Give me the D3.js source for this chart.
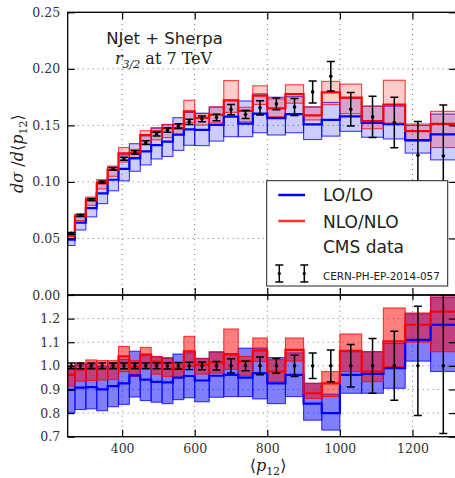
<!DOCTYPE html>
<html>
<head>
<meta charset="utf-8">
<script src="https://cdn.jsdelivr.net/npm/d3@7"></script>
<style>
  body { margin: 0; background: #fff; }
  svg { display: block; }
</style>
</head>
<body>
<script>
// bin edges in <p12>
var binEdges = [250, 270, 300, 330, 360, 390, 420, 450, 480, 510, 540, 570, 600,
  640, 680, 720, 760, 800, 850, 900, 950, 1000, 1060, 1120, 1180, 1250, 1320];

// CMS data (top panel)
var cmsVal = [0.0545, 0.0705, 0.0845, 0.0998, 0.1115, 0.1205, 0.1260, 0.1348, 0.1422, 0.1458,
  0.1493, 0.1531, 0.1558, 0.1570, 0.1640, 0.1596, 0.1655, 0.1690, 0.1663, 0.1796,
  0.1935, 0.1643, 0.1575, 0.1525, 0.1235, 0.1230];
var cmsErrUp = [0.0008, 0.0008, 0.0009, 0.0010, 0.0012, 0.0013, 0.0015, 0.0016, 0.0017, 0.0019,
  0.0021, 0.0023, 0.0025, 0.0028, 0.0045, 0.0035, 0.0063, 0.0052, 0.0075, 0.0097,
  0.0130, 0.0148, 0.0183, 0.0223, 0.0300, 0.0450];
var cmsErrDn = [0.0008, 0.0008, 0.0009, 0.0010, 0.0012, 0.0013, 0.0015, 0.0016, 0.0017, 0.0019,
  0.0021, 0.0023, 0.0025, 0.0028, 0.0045, 0.0035, 0.0063, 0.0052, 0.0075, 0.0097,
  0.0130, 0.0148, 0.0183, 0.0223, 0.0230, 0.0360];

// LO/LO prediction (top panel)
var loVal = [0.0489, 0.0640, 0.0769, 0.0898, 0.1019, 0.1116, 0.1210, 0.1270, 0.1325, 0.1356,
  0.1418, 0.1465, 0.1461, 0.1504, 0.1578, 0.1516, 0.1604, 0.1565, 0.1600, 0.1509,
  0.1548, 0.1580, 0.1521, 0.1510, 0.1370, 0.1420];
var loLow = [0.0438, 0.0575, 0.0691, 0.0808, 0.0922, 0.1009, 0.1094, 0.1150, 0.1203, 0.1225,
  0.1279, 0.1324, 0.1321, 0.1361, 0.1400, 0.1400, 0.1435, 0.1415, 0.1435, 0.1375,
  0.1405, 0.1447, 0.1395, 0.1380, 0.1255, 0.1195];
var loHigh = [0.0542, 0.0709, 0.0852, 0.0998, 0.1128, 0.1239, 0.1338, 0.1409, 0.1476, 0.1505,
  0.1568, 0.1615, 0.1608, 0.1661, 0.1722, 0.1716, 0.1779, 0.1749, 0.1754, 0.1663,
  0.1703, 0.1742, 0.1670, 0.1670, 0.1500, 0.1600];

// NLO/NLO prediction (top panel)
var nloVal = [0.0524, 0.0694, 0.0837, 0.0988, 0.1106, 0.1253, 0.1254, 0.1413, 0.1448, 0.1475,
  0.1475, 0.1624, 0.1566, 0.1594, 0.1722, 0.1628, 0.1763, 0.1650, 0.1776, 0.1588,
  0.1792, 0.1746, 0.1537, 0.1684, 0.1450, 0.1513];
var nloLow = [0.0499, 0.0659, 0.0793, 0.0938, 0.1050, 0.1175, 0.1203, 0.1335, 0.1372, 0.1392,
  0.1418, 0.1523, 0.1503, 0.1523, 0.1615, 0.1532, 0.1685, 0.1577, 0.1696, 0.1548,
  0.1683, 0.1604, 0.1470, 0.1520, 0.1359, 0.1304];
var nloHigh = [0.0545, 0.0714, 0.0866, 0.1020, 0.1140, 0.1304, 0.1288, 0.1453, 0.1479, 0.1509,
  0.1508, 0.1722, 0.1605, 0.1664, 0.1896, 0.1660, 0.1850, 0.1734, 0.1859, 0.1663,
  0.1889, 0.1865, 0.1670, 0.1899, 0.1512, 0.1624];

// ratio panel: theory / data
var loRatio = [0.898, 0.908, 0.910, 0.900, 0.914, 0.926, 0.960, 0.942, 0.932, 0.930,
  0.950, 0.957, 0.938, 0.958, 0.962, 0.950, 0.969, 0.926, 0.962, 0.840,
  0.800, 0.962, 0.966, 0.990, 1.110, 1.174];
var loRatioLow = [0.803, 0.815, 0.818, 0.810, 0.827, 0.837, 0.868, 0.853, 0.846, 0.840,
  0.857, 0.865, 0.848, 0.867, 0.870, 0.870, 0.860, 0.840, 0.870, 0.770,
  0.728, 0.884, 0.884, 0.905, 1.020, 0.976];
var loRatioHigh = [0.995, 1.005, 1.008, 1.000, 1.012, 1.028, 1.062, 1.045, 1.038, 1.032,
  1.050, 1.055, 1.032, 1.058, 1.050, 1.075, 1.075, 1.035, 1.055, 0.926,
  0.880, 1.060, 1.060, 1.095, 1.220, 1.290];
var nloRatio = [0.962, 0.985, 0.990, 0.990, 0.992, 1.040, 0.995, 1.048, 1.018, 1.012,
  0.988, 1.061, 1.005, 1.015, 1.050, 1.020, 1.065, 0.976, 1.068, 0.884,
  0.926, 1.063, 0.976, 1.104, 1.174, 1.230];
var nloRatioLow = [0.915, 0.935, 0.938, 0.940, 0.942, 0.975, 0.955, 0.990, 0.965, 0.955,
  0.950, 0.995, 0.965, 0.970, 0.985, 0.960, 1.018, 0.933, 1.020, 0.862,
  0.870, 0.976, 0.933, 0.997, 1.100, 1.060];
var nloRatioHigh = [1.000, 1.012, 1.025, 1.022, 1.022, 1.082, 1.022, 1.078, 1.040, 1.035,
  1.010, 1.125, 1.030, 1.060, 1.156, 1.040, 1.118, 1.026, 1.118, 0.926,
  0.976, 1.135, 1.060, 1.245, 1.224, 1.320];
var cmsRatioErrUp = [0.012, 0.012, 0.012, 0.012, 0.012, 0.012, 0.012, 0.012, 0.012, 0.013,
  0.014, 0.015, 0.016, 0.018, 0.030, 0.021, 0.038, 0.031, 0.045, 0.054,
  0.067, 0.090, 0.116, 0.146, 0.252, 0.300];
var cmsRatioErrDn = [0.012, 0.012, 0.012, 0.012, 0.012, 0.012, 0.012, 0.012, 0.012, 0.013,
  0.014, 0.015, 0.016, 0.018, 0.030, 0.021, 0.038, 0.031, 0.045, 0.054,
  0.067, 0.090, 0.116, 0.146, 0.210, 0.286];

var yTicksTop = [0.00, 0.05, 0.10, 0.15, 0.20, 0.25];
var yTicksBottom = [0.7, 0.8, 0.9, 1.0, 1.1, 1.2];
var xTicks = [400, 600, 800, 1000, 1200];

var W = 455, H = 478;
var left = 67.7, right = 456, topY = 12.3, midY = 295, botY = 436.7;
var serif = "'DejaVu Serif', serif";
var sans = "'DejaVu Sans', sans-serif";

var svg = d3.select("body").append("svg")
  .attr("width", W)
  .attr("height", H);

var x = d3.scaleLinear().domain([250, 1320]).range([left, right]);
var yTop = d3.scaleLinear().domain([0, 0.25]).range([midY, topY]);
var yBot = d3.scaleLinear().domain([0.7, 1.3]).range([botY, midY]);

var n = cmsVal.length;
var idx = d3.range(n);

var defs = svg.append("defs");
defs.append("clipPath").attr("id", "clipTop").append("rect")
  .attr("x", left).attr("y", topY).attr("width", right - left).attr("height", midY - topY);
defs.append("clipPath").attr("id", "clipBot").append("rect")
  .attr("x", left).attr("y", midY).attr("width", right - left).attr("height", botY - midY);

function grid(g, y, yticks) {
  g.selectAll("line.gx").data(xTicks).enter().append("line")
    .attr("x1", function(d) { return x(d); })
    .attr("x2", function(d) { return x(d); })
    .attr("y1", y.range()[0]).attr("y2", y.range()[1])
    .attr("stroke", "#777").attr("stroke-width", 1)
    .attr("stroke-dasharray", "1,4");
  g.selectAll("line.gy").data(yticks).enter().append("line")
    .attr("x1", left).attr("x2", right)
    .attr("y1", function(d) { return y(d); })
    .attr("y2", function(d) { return y(d); })
    .attr("stroke", "#777").attr("stroke-width", 1)
    .attr("stroke-dasharray", "1,4");
}

function band(g, y, lo, hi, colour, fillOp) {
  g.append("g").selectAll("rect").data(idx).enter().append("rect")
    .attr("x", function(i) { return x(binEdges[i]); })
    .attr("width", function(i) { return x(binEdges[i + 1]) - x(binEdges[i]); })
    .attr("y", function(i) { return y(hi[i]); })
    .attr("height", function(i) { return y(lo[i]) - y(hi[i]); })
    .attr("fill", colour).attr("fill-opacity", fillOp)
    .attr("stroke", colour).attr("stroke-opacity", 0.75).attr("stroke-width", 1.1);
}

function step(g, y, vals, colour) {
  var pts = idx.map(function(i) { return [binEdges[i], vals[i]]; });
  pts.push([binEdges[n], vals[n - 1]]);
  var line = d3.line()
    .x(function(d) { return x(d[0]); })
    .y(function(d) { return y(d[1]); })
    .curve(d3.curveStepAfter);
  g.append("path").datum(pts)
    .attr("d", line)
    .attr("fill", "none")
    .attr("stroke", colour)
    .attr("stroke-width", 2.2);
}

function errorBars(g, y, centre, up, dn) {
  var eg = g.append("g").selectAll("g").data(idx).enter().append("g")
    .attr("transform", function(i) {
      return "translate(" + x((binEdges[i] + binEdges[i + 1]) / 2) + ",0)";
    });
  eg.append("line")
    .attr("y1", function(i) { return y(centre[i] + up[i]); })
    .attr("y2", function(i) { return y(centre[i] - dn[i]); })
    .attr("stroke", "#000").attr("stroke-width", 1.5);
  eg.append("line").attr("x1", -4).attr("x2", 4)
    .attr("y1", function(i) { return y(centre[i] + up[i]); })
    .attr("y2", function(i) { return y(centre[i] + up[i]); })
    .attr("stroke", "#000").attr("stroke-width", 1.5);
  eg.append("line").attr("x1", -4).attr("x2", 4)
    .attr("y1", function(i) { return y(centre[i] - dn[i]); })
    .attr("y2", function(i) { return y(centre[i] - dn[i]); })
    .attr("stroke", "#000").attr("stroke-width", 1.5);
  eg.append("circle").attr("r", 1.8)
    .attr("cy", function(i) { return y(centre[i]); })
    .attr("fill", "#000");
}

// ---------- top panel ----------
var gTop = svg.append("g");
grid(gTop, yTop, yTicksTop);
var topData = gTop.append("g").attr("clip-path", "url(#clipTop)");
band(topData, yTop, loLow, loHigh, "#0000ff", 0.2);
band(topData, yTop, nloLow, nloHigh, "#ff0000", 0.2);
step(topData, yTop, loVal, "#0000ff");
step(topData, yTop, nloVal, "#ff0000");
errorBars(topData, yTop, cmsVal, cmsErrUp, cmsErrDn);

// ---------- ratio panel ----------
var ones = idx.map(function() { return 1; });
var gBot = svg.append("g");
grid(gBot, yBot, yTicksBottom);
var botData = gBot.append("g").attr("clip-path", "url(#clipBot)");
band(botData, yBot, loRatioLow, loRatioHigh, "#0000ff", 0.5);
band(botData, yBot, nloRatioLow, nloRatioHigh, "#ff0000", 0.5);
step(botData, yBot, loRatio, "#0000ff");
step(botData, yBot, nloRatio, "#ff0000");
errorBars(botData, yBot, ones, cmsRatioErrUp, cmsRatioErrDn);

// ---------- axes ----------
function styleAxis(g) {
  g.select(".domain").remove();
  g.selectAll(".tick line").attr("stroke", "#000").attr("stroke-width", 1.2);
  g.selectAll(".tick text").attr("fill", "#333")
    .style("font-family", serif).style("font-size", "12.5px");
}

svg.append("g").attr("transform", "translate(" + left + ",0)")
  .call(d3.axisLeft(yTop).tickValues(yTicksTop).tickSize(-7).tickPadding(7.5).tickFormat(d3.format(".2f")))
  .call(styleAxis);
svg.append("g").attr("transform", "translate(" + right + ",0)")
  .call(d3.axisRight(yTop).tickValues(yTicksTop).tickSize(-7).tickFormat(""))
  .call(styleAxis);
svg.append("g").attr("transform", "translate(0," + topY + ")")
  .call(d3.axisTop(x).tickValues(xTicks).tickSize(-7).tickFormat(""))
  .call(styleAxis);
svg.append("g").attr("transform", "translate(0," + midY + ")")
  .call(d3.axisBottom(x).tickValues(xTicks).tickSize(-7).tickFormat(""))
  .call(styleAxis);

svg.append("g").attr("transform", "translate(" + left + ",0)")
  .call(d3.axisLeft(yBot).tickValues(yTicksBottom).tickSize(-7).tickPadding(7.5).tickFormat(d3.format(".1f")))
  .call(styleAxis);
svg.append("g").attr("transform", "translate(" + right + ",0)")
  .call(d3.axisRight(yBot).tickValues(yTicksBottom).tickSize(-7).tickFormat(""))
  .call(styleAxis);
svg.append("g").attr("transform", "translate(0," + midY + ")")
  .call(d3.axisTop(x).tickValues(xTicks).tickSize(-5).tickFormat(""))
  .call(styleAxis);
svg.append("g").attr("transform", "translate(0," + botY + ")")
  .call(d3.axisBottom(x).tickValues(xTicks).tickSize(-7).tickPadding(7.5).tickFormat(d3.format("d")))
  .call(styleAxis);

// frames
svg.append("rect").attr("x", left).attr("y", topY)
  .attr("width", right - left).attr("height", midY - topY)
  .attr("fill", "none").attr("stroke", "#000").attr("stroke-width", 1.3);
svg.append("rect").attr("x", left).attr("y", midY)
  .attr("width", right - left).attr("height", botY - midY)
  .attr("fill", "none").attr("stroke", "#000").attr("stroke-width", 1.3);

// axis labels
var yl = svg.append("text")
  .attr("transform", "translate(23," + ((topY + midY) / 2) + ") rotate(-90)")
  .attr("text-anchor", "middle")
  .style("font-family", serif).style("font-size", "16px").attr("fill", "#222");
yl.append("tspan").style("font-style", "italic").text("dσ");
yl.append("tspan").text(" /");
yl.append("tspan").style("font-style", "italic").text("d");
yl.append("tspan").text("⟨");
yl.append("tspan").style("font-style", "italic").text("p");
yl.append("tspan").attr("dy", 4).style("font-size", "11px").text("12");
yl.append("tspan").attr("dy", -4).text("⟩");

var xl = svg.append("text")
  .attr("x", 268).attr("y", 471)
  .attr("text-anchor", "middle")
  .style("font-family", serif).style("font-size", "16px").attr("fill", "#222");
xl.append("tspan").text("⟨");
xl.append("tspan").style("font-style", "italic").text("p");
xl.append("tspan").attr("dy", 4).style("font-size", "11px").text("12");
xl.append("tspan").attr("dy", -4).text("⟩");

// title
svg.append("text").attr("x", 164.5).attr("y", 43.5)
  .attr("text-anchor", "middle")
  .style("font-family", sans).style("font-size", "16.5px").attr("fill", "#222")
  .text("NJet + Sherpa");
var t2 = svg.append("text").attr("x", 163.5).attr("y", 64)
  .attr("text-anchor", "middle")
  .style("font-family", serif).style("font-size", "16px").attr("fill", "#222");
t2.append("tspan").style("font-style", "italic").text("r");
t2.append("tspan").attr("dy", 4).style("font-size", "11px").style("font-style", "italic").text("3/2");
t2.append("tspan").attr("dy", -4).text(" at 7 TeV");

// legend
var lg = svg.append("g");
lg.append("rect").attr("x", 266.7).attr("y", 180.7).attr("width", 181).attr("height", 105.3)
  .attr("fill", "#fff").attr("stroke", "#222").attr("stroke-width", 1);
lg.append("line").attr("x1", 278.3).attr("x2", 305).attr("y1", 195).attr("y2", 195)
  .attr("stroke", "#0000ff").attr("stroke-width", 2.5);
lg.append("line").attr("x1", 278.3).attr("x2", 305).attr("y1", 221).attr("y2", 221)
  .attr("stroke", "#ff3030").attr("stroke-width", 2.5);
var legendText = [["LO/LO", 201], ["NLO/NLO", 228], ["CMS data", 253]];
legendText.forEach(function(d) {
  lg.append("text").attr("x", 323).attr("y", d[1])
    .style("font-family", sans).style("font-size", "17px").attr("fill", "#222")
    .text(d[0]);
});
lg.append("text").attr("x", 323).attr("y", 279.5)
  .style("font-family", sans).style("font-size", "10.4px").attr("fill", "#222")
  .text("CERN-PH-EP-2014-057");
[279.3, 304.3].forEach(function(cx) {
  lg.append("line").attr("x1", cx).attr("x2", cx).attr("y1", 265).attr("y2", 282)
    .attr("stroke", "#000").attr("stroke-width", 1.5);
  lg.append("line").attr("x1", cx - 4).attr("x2", cx + 4).attr("y1", 265).attr("y2", 265)
    .attr("stroke", "#000").attr("stroke-width", 1.5);
  lg.append("line").attr("x1", cx - 4).attr("x2", cx + 4).attr("y1", 282).attr("y2", 282)
    .attr("stroke", "#000").attr("stroke-width", 1.5);
  lg.append("circle").attr("cx", cx).attr("cy", 273.5).attr("r", 1.6).attr("fill", "#000");
});
</script>
</body>
</html>
